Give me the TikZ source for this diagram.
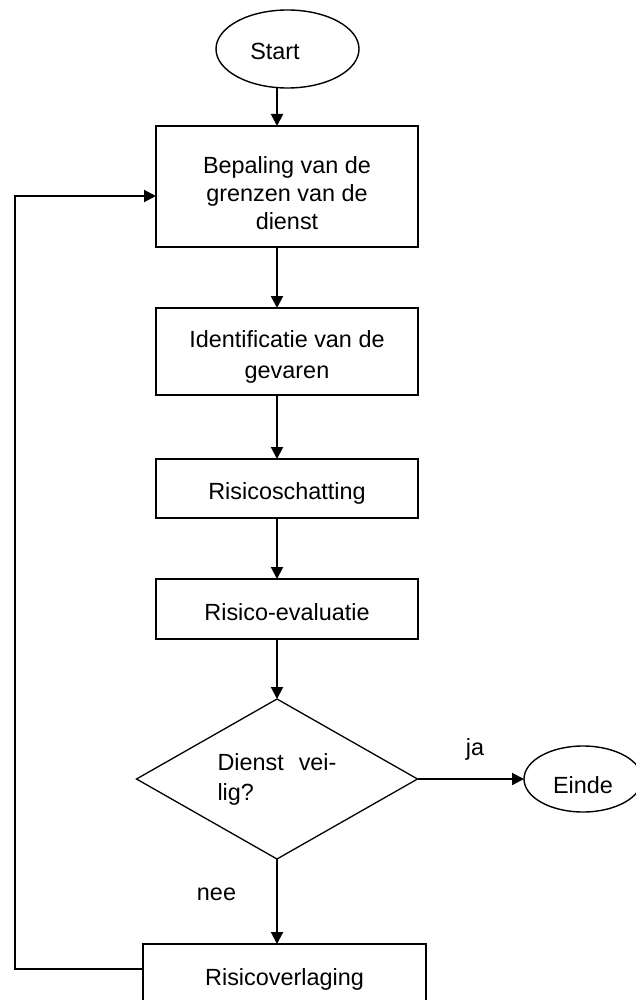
\documentclass[tikz,border=0pt]{standalone}
\usepackage{fontspec}
\setmainfont{Liberation Sans}
\usetikzlibrary{shapes.geometric,arrows.meta}
\newcommand\mylines[1]{\begin{tabular}[t]{@{}c@{}}#1\end{tabular}}
\begin{document}
\begin{tikzpicture}[x=1pt,y=-1pt,
  every node/.style={font=\fontsize{23.4}{28}\selectfont, inner sep=0pt, outer sep=0pt},
  box/.style={draw, line width=2pt, rectangle},
  term/.style={draw, line width=1.4pt, ellipse},
  decision/.style={draw, line width=1.3pt, diamond, shape aspect=1.756},
  arr/.style={line width=2pt, -{Triangle[length=12pt,width=12pt]}},
  lbl/.style={anchor=base}]
\useasboundingbox (0,0) rectangle (635,1000);

\node[term, minimum width=143pt, minimum height=78pt, text height=22pt, text depth=0pt] (s) at (287.5,49) {Start\hspace*{25pt}};

\node[box, minimum width=262pt, minimum height=121pt, text height=20pt, text depth=46pt] (b1) at (287,186.5)
  {\mylines{Bepaling van de\\grenzen van de\\dienst}};

\node[box, minimum width=262pt, minimum height=87pt, text height=20pt, text depth=28.4pt] (b2) at (287,351.5)
  {\mylines{Identificatie van de\\[3pt]gevaren}};

\node[box, minimum width=262pt, minimum height=59pt, text height=21.6pt, text depth=0pt] (b3) at (287,488.5)
  {Risicoschatting};

\node[box, minimum width=262pt, minimum height=60pt, text height=22pt, text depth=0pt] (b4) at (287,609)
  {Risico-evaluatie};

\node[decision, minimum width=281pt, minimum height=160pt, text height=20pt, text depth=38pt] (d) at (277,779)
  {\begin{tabular}[t]{@{}l@{}}\makebox[119pt][l]{Dienst\hfill vei-}\\[2pt]lig?\end{tabular}};

\node[term, minimum width=118pt, minimum height=66pt, text height=28pt, text depth=0pt] (e) at (583,779) {Einde};

\node[box, minimum width=283pt, minimum height=66pt, text height=16pt, text depth=0pt] (r) at (284.5,977)
  {Risicoverlaging};

\node[lbl] (ja) at (475,755) {ja};
\node[lbl] (nee) at (216.5,900) {nee};

\coordinate (ax) at (277,0);
\coordinate (c1) at (15,196);
\coordinate (c2) at (15,969);

\draw[arr] (s.south -| ax) -- (b1.north -| ax);
\draw[arr] (b1.south -| ax) -- (b2.north -| ax);
\draw[arr] (b2.south -| ax) -- (b3.north -| ax);
\draw[arr] (b3.south -| ax) -- (b4.north -| ax);
\draw[arr] (b4.south -| ax) -- (d.north);
\draw[arr] (d.east) -- (e.west);
\draw[arr] (d.south) -- (r.north -| d.south);
\draw[arr] (r.west |- c2) -- (c2) -- (c1) -- (b1.west |- c1);
\end{tikzpicture}
\end{document}
